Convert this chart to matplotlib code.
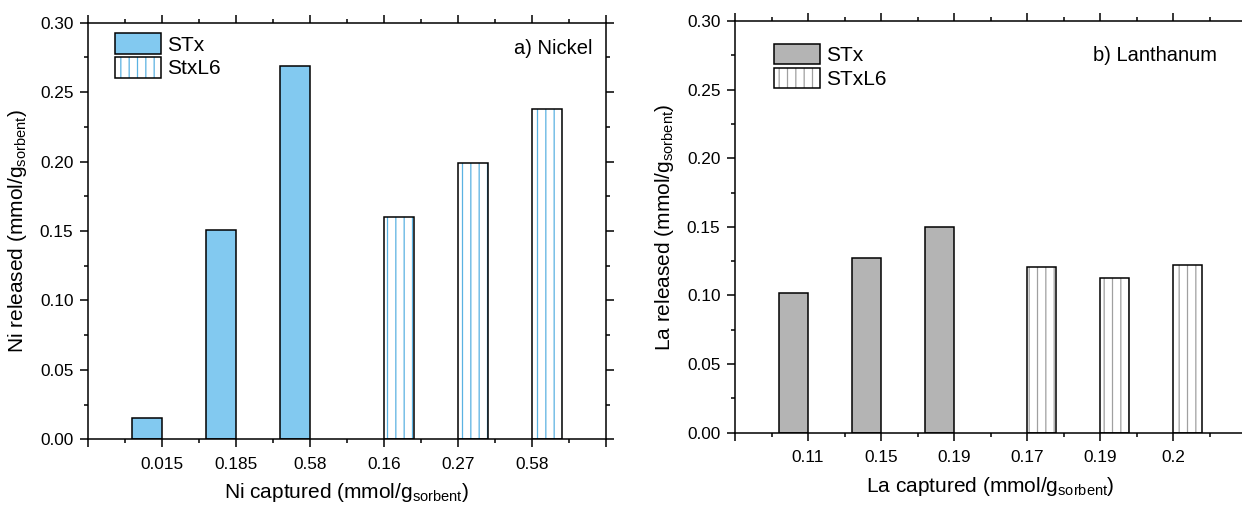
import numpy as np
import matplotlib
matplotlib.use("Agg")
import matplotlib.pyplot as plt
from matplotlib.ticker import FixedLocator, MultipleLocator
from matplotlib.legend_handler import HandlerTuple
from matplotlib.patches import Patch

plt.rcParams['font.family'] = ['Liberation Sans', 'DejaVu Sans']
plt.rcParams['mathtext.default'] = 'regular'
plt.rcParams['hatch.linewidth'] = 0.9

# ---- data ----
ni_categories = ["0.015", "0.185", "0.58", "0.16", "0.27", "0.58"]
ni_stx = [0.015, 0.151, 0.269, np.nan, np.nan, np.nan]
ni_stxl6 = [np.nan, np.nan, np.nan, 0.160, 0.199, 0.238]

la_categories = ["0.11", "0.15", "0.19", "0.17", "0.19", "0.2"]
la_stx = [0.102, 0.127, 0.150, np.nan, np.nan, np.nan]
la_stxl6 = [np.nan, np.nan, np.nan, 0.121, 0.113, 0.122]

ni_labels = ["STx", "StxL6"]
la_labels = ["STx", "STxL6"]

W, H = 1242, 507
fig = plt.figure(figsize=(W / 100, H / 100), dpi=100)

ax1 = fig.add_axes([88 / W, (H - 439.3) / H, 518 / W, 416.6 / H])
ax2 = fig.add_axes([735 / W, (H - 432.7) / H, 511 / W, 411.7 / H])

bw = 0.4


def panel(ax, cats, s1, s2, fill1, hatchcol, labels, xlabel, ylabel, note, note_xy, leg_xy):
    x = np.arange(len(cats))
    s1 = np.asarray(s1, float)
    s2 = np.asarray(s2, float)
    m1 = ~np.isnan(s1)
    m2 = ~np.isnan(s2)
    ax.bar(x[m1] - bw / 2, s1[m1], width=bw, color=fill1, edgecolor='black',
           linewidth=1.1, zorder=2)
    ax.bar(x[m2] + bw / 2, s2[m2], width=bw, color='white', edgecolor=hatchcol,
           hatch='||', linewidth=0, zorder=2)
    ax.bar(x[m2] + bw / 2, s2[m2], width=bw, fill=False, edgecolor='black',
           linewidth=1.1, zorder=3)

    ax.set_xlim(-1, len(cats))
    ax.set_ylim(0, 0.30)
    major = list(range(-1, len(cats) + 1))
    ax.xaxis.set_major_locator(FixedLocator(major))
    ax.set_xticklabels([''] + cats + [''])
    ax.xaxis.set_minor_locator(FixedLocator([m + 0.5 for m in major[:-1]]))
    ax.yaxis.set_major_locator(MultipleLocator(0.05))
    ax.yaxis.set_minor_locator(MultipleLocator(0.025))
    ax.yaxis.set_major_formatter(matplotlib.ticker.FormatStrFormatter('%.2f'))

    ax.tick_params(which='both', direction='out', top=True, right=True,
                   width=1.1, labelsize=12.4)
    ax.tick_params(which='major', length=5.5)
    ax.tick_params(which='minor', length=3)
    ax.tick_params(axis='x', which='major', pad=7)
    ax.tick_params(axis='y', which='major', pad=5)
    for sp in ax.spines.values():
        sp.set_linewidth(1.1)

    ax.set_xlabel(xlabel, fontsize=15, labelpad=7)
    ax.set_ylabel(ylabel, fontsize=15, labelpad=8)

    ax.text(note_xy[0], note_xy[1], note, transform=ax.transAxes,
            ha='right', va='center', fontsize=14.5)

    h1 = Patch(facecolor=fill1, edgecolor='black', linewidth=1.1)
    h2a = Patch(facecolor='white', edgecolor=hatchcol, hatch='||', linewidth=0)
    h2b = Patch(fill=False, edgecolor='black', linewidth=1.1)
    ax.legend([h1, (h2a, h2b)], labels, loc='upper left', bbox_to_anchor=leg_xy,
              frameon=False, fontsize=15, handlelength=2.2, handleheight=1.15,
              handletextpad=0.3, labelspacing=0.12, borderpad=0, borderaxespad=0,
              handler_map={tuple: HandlerTuple(ndivide=1, pad=0)})


panel(ax1, ni_categories, ni_stx, ni_stxl6, '#82C9F0', '#5AB2E2', ni_labels,
      r'Ni captured (mmol/g$_{sorbent}$)', r'Ni released (mmol/g$_{sorbent}$)',
      'a) Nickel', (0.973, 0.939), (0.052, 0.975))
panel(ax2, la_categories, la_stx, la_stxl6, '#B4B4B4', '#A0A0A0', la_labels,
      r'La captured (mmol/g$_{sorbent}$)', r'La released (mmol/g$_{sorbent}$)',
      'b) Lanthanum', (0.943, 0.917), (0.076, 0.945))

fig.savefig('out.png', dpi=100)
